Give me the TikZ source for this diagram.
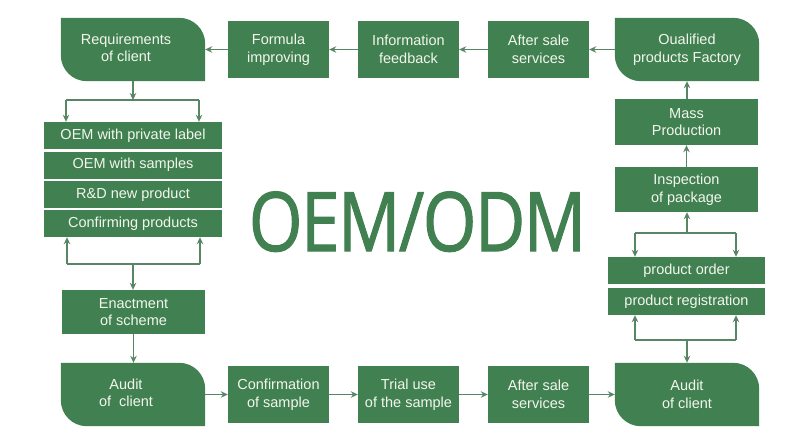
\documentclass[tikz,border=0pt]{standalone}
\usepackage{fontspec}
\setmainfont{Liberation Sans}
\newfontfamily\oemfont{Open Sans}[FakeBold=1.5,LetterSpace=-2]
\usetikzlibrary{arrows.meta,backgrounds}
\definecolor{boxg}{RGB}{65,128,80}
\definecolor{lineg}{RGB}{88,134,100}
\definecolor{txtw}{RGB}{242,247,238}
\newcommand{\twol}[2]{\begin{tabular}{@{}c@{}}#1\\#2\end{tabular}\hspace*{14pt}}
\begin{document}
\begin{tikzpicture}[x=1pt,y=-1pt,
  box/.style={rectangle,fill=boxg,text=txtw,inner sep=0pt,align=center,
    font=\fontsize{14.5}{17.5}\selectfont},
  rbox/.style={rectangle,text=txtw,inner sep=0pt,align=center,
    minimum width=144pt,minimum height=63pt,
    font=\fontsize{14.5}{17.5}\selectfont},
  midbox/.style={box,minimum width=101pt,minimum height=57pt},
  colbox/.style={box,minimum width=143pt},
  stackbox/.style={box,minimum width=178pt,minimum height=27pt},
  ordbox/.style={box,minimum width=157pt,minimum height=27pt},
  conn/.style={draw=lineg,line width=1.3pt},
  arr/.style={conn,-{Stealth[length=7pt,width=6.5pt]}},
  rfill/.style={fill=boxg}
]
\begin{scope}[on background layer]
\path[use as bounding box,fill=white] (0,0) rectangle (800,442);
\end{scope}

% top row
\node[rbox] (rq) at (133,49.5) {\twol{Requirements}{of client}};
\node[midbox] (fi) at (278.5,49.5) {Formula\\improving};
\node[midbox] (inf) at (408.5,49.5) {Information\\feedback};
\node[midbox] (as1) at (538.5,49.5) {After sale\\services};
\node[rbox] (qf) at (687,49.5) {Oualified\\products Factory};

% right column
\node[colbox,minimum height=46pt] (mp) at (686.5,122) {Mass\\Production};
\node[colbox,minimum height=45pt] (ip) at (686.5,189.5) {Inspection\\of package};
\node[ordbox] (po) at (686.5,270.5) {product order};
\node[ordbox] (pr) at (686.5,301.5) {product registration};

% bottom row
\node[rbox] (ac1) at (133,394.5) {\twol{Audit}{of\ \ client}};
\node[midbox] (cs) at (278.5,394.5) {Confirmation\\of sample};
\node[midbox] (tu) at (408.5,394.5) {Trial use\\of the sample};
\node[midbox] (as2) at (538.5,394.5) {After sale\\services};
\node[rbox] (ac2) at (687,394.5) {Audit\\of client};

% left column
\node[stackbox] (o1) at (133,135.5) {OEM with private label};
\node[stackbox] (o2) at (133,165) {OEM with samples};
\node[stackbox] (o3) at (133,194.5) {R\&D new product};
\node[stackbox] (o4) at (133,223.5) {Confirming products};
\node[colbox,minimum height=44pt] (en) at (133.5,312) {Enactment\\of scheme};

% big title
\node[font=\oemfont\fontsize{82}{90}\selectfont,text=boxg,anchor=base,inner sep=0pt] (title) at (417.5,251) {\scalebox{0.84}[1]{OEM/ODM}};

% rounded shapes
\begin{scope}[on background layer]
\foreach \n in {rq,qf,ac1,ac2}{
  \fill[rfill] (\n.north west) -- ([xshift=-26pt]\n.north east)
    arc[start angle=90,end angle=0,radius=26pt] -- (\n.south east)
    -- ([xshift=26pt]\n.south west)
    arc[start angle=270,end angle=180,radius=26pt] -- cycle;
}
\end{scope}

% branch coordinates
\coordinate (lt) at (133,100);
\coordinate (ltl) at (66,100);
\coordinate (ltr) at (199,100);
\coordinate (lb) at (133,264);
\coordinate (lbl) at (67,264);
\coordinate (lbr) at (200,264);
\coordinate (rt) at (687,233);
\coordinate (rtl) at (635,233);
\coordinate (rtr) at (736,233);
\coordinate (rb) at (687,340);
\coordinate (rbl) at (635,340);
\coordinate (rbr) at (736,340);

% top row arrows
\draw[arr] (qf.west) -- (as1.east);
\draw[arr] (as1.west) -- (inf.east);
\draw[arr] (inf.west) -- (fi.east);
\draw[arr] (fi.west) -- (rq.east);

% bottom row arrows
\draw[arr] (ac1.east) -- (cs.west);
\draw[arr] (cs.east) -- (tu.west);
\draw[arr] (tu.east) -- (as2.west);
\draw[arr] (as2.east) -- (ac2.west);

% left column
\draw[arr] (rq.south) -- (lt);
\draw[conn] (ltl) -- (ltr);
\draw[arr] (ltl) -- (ltl |- o1.north);
\draw[arr] (ltr) -- (ltr |- o1.north);
\draw[conn] (lbl) -- (lbr);
\draw[arr] (lbl) -- (lbl |- o4.south);
\draw[arr] (lbr) -- (lbr |- o4.south);
\draw[arr] (lb) -- (lb |- en.north);
\draw[arr] (en.south) -- (en.south |- ac1.north);

% right column
\draw[arr] (qf.south |- mp.north) -- (qf.south);
\draw[arr] (ip.north) -- (mp.south);
\draw[arr] (rt) -- (rt |- ip.south);
\draw[conn] (rtl) -- (rtr);
\draw[arr] (rtl) -- (rtl |- po.north);
\draw[arr] (rtr) -- (rtr |- po.north);
\draw[conn] (rbl) -- (rbr);
\draw[arr] (rbl) -- (rbl |- pr.south);
\draw[arr] (rbr) -- (rbr |- pr.south);
\draw[arr] (rb) -- (ac2.north);
\end{tikzpicture}
\end{document}
